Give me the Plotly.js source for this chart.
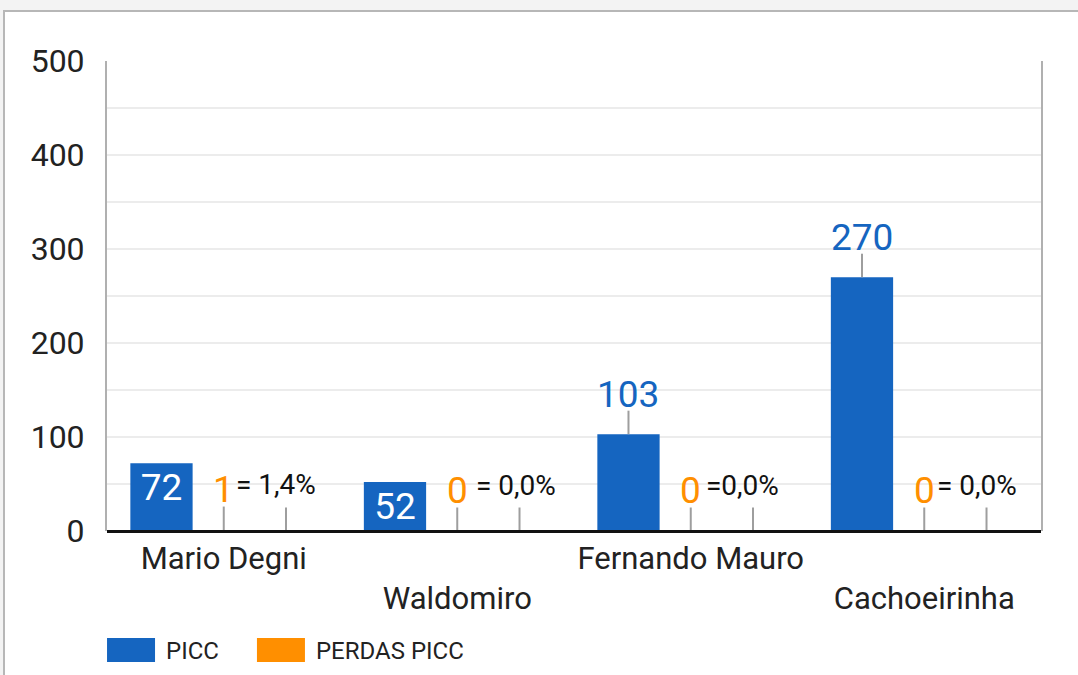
<!DOCTYPE html>
<html>
<head>
<meta charset="utf-8">
<script src="https://cdn.plot.ly/plotly-3.0.1.min.js"></script>
<style>
  html, body { margin: 0; padding: 0; background: #f3f3f3; width: 1078px; height: 675px; overflow: hidden; }
  #card { position: absolute; left: 3px; top: 10px; width: 1073px; height: 663px;
          border-left: 2px solid #b7b7b7; border-top: 2px solid #b7b7b7; background: #ffffff; }
  #chart { width: 1073px; height: 663px; }
  g.legendpoints path { d: path("M35,12H-13V-12H35Z"); }
</style>
</head>
<body>
<div id="card"><div id="chart"></div></div>
<script>
// ---- data ----
const categories = ['Mario Degni', 'Waldomiro', 'Fernando Mauro', 'Cachoeirinha'];
const piccValues = [72, 52, 103, 270];
const perdasValues = [1, 0, 0, 0];
const perdasPct = [1.4, 0, 0, 0];
const pctLabels = ['= 1,4%', '= 0,0%', '=0,0%', '= 0,0%'];
const seriesNames = ['PICC', 'PERDAS PICC'];
const yTicks = [0, 100, 200, 300, 400, 500];

// ---- style ----
const BLUE = '#1565C0', ORANGE = '#FF8F00', LEADER = '#9e9e9e';
const FONT = 'Roboto, "Open Sans", sans-serif';
const W = 1073, H = 663;
const M = { l: 102, r: 37, t: 49, b: 144, autoexpand: false };
const BARGAP = 0.2;
const leader = 25;                       // leader-line length (axis units)
const bluePlacement = ['inside', 'inside', 'outside', 'outside'];
const pctNudge = [-10, -4, -11, -10];    // px, horizontal label nudge
const LEGEND_SYMBOL = 'M35,12H-13V-12H35Z';

const plotW = W - M.l - M.r;
const barW = plotW / categories.length * (1 - BARGAP) / 3;

const trPicc = {
  type: 'bar', name: seriesNames[0], x: categories, y: piccValues,
  marker: { color: BLUE },
  text: piccValues.map(String),
  textposition: bluePlacement.map(p => p === 'inside' ? 'inside' : 'none'),
  insidetextanchor: 'end', constraintext: 'none', textangle: 0,
  insidetextfont: { family: FONT, size: 37, color: '#ffffff' },
  error_y: { type: 'data', symmetric: false,
             array: bluePlacement.map(p => p === 'outside' ? leader : 0),
             arrayminus: piccValues.map(() => 0),
             width: 0, thickness: 2, color: LEADER },
  hoverinfo: 'skip'
};
const trPerdas = {
  type: 'bar', name: seriesNames[1], x: categories, y: perdasValues,
  marker: { color: ORANGE },
  error_y: { type: 'data', symmetric: false,
             array: perdasValues.map(() => leader), arrayminus: perdasValues.map(() => 0),
             width: 0, thickness: 2, color: LEADER },
  hoverinfo: 'skip'
};
const trPct = {
  type: 'bar', name: '%', x: categories, y: perdasPct.map(v => v / 100),
  marker: { color: 'rgba(0,0,0,0)' }, showlegend: false,
  error_y: { type: 'data', symmetric: false,
             array: perdasPct.map(() => leader), arrayminus: perdasPct.map(() => 0),
             width: 0, thickness: 2, color: LEADER },
  hoverinfo: 'skip'
};

const annotations = [];
categories.forEach((c, i) => {
  if (bluePlacement[i] === 'outside') {
    annotations.push({ x: c, y: piccValues[i] + leader, xref: 'x', yref: 'y',
      text: String(piccValues[i]), showarrow: false, xshift: -barW, yshift: -6, borderpad: 0,
      xanchor: 'center', yanchor: 'bottom', font: { family: FONT, size: 37, color: BLUE } });
  }
  annotations.push({ x: c, y: perdasValues[i] + leader, xref: 'x', yref: 'y',
    text: String(perdasValues[i]), showarrow: false, xshift: 0, yshift: -5, borderpad: 0,
    xanchor: 'center', yanchor: 'bottom', font: { family: FONT, size: 37, color: ORANGE } });
  annotations.push({ x: c, y: perdasPct[i] / 100 + leader, xref: 'x', yref: 'y',
    text: pctLabels[i], showarrow: false, xshift: barW + pctNudge[i], yshift: 5, borderpad: 0,
    xanchor: 'center', yanchor: 'bottom', font: { family: FONT, size: 28, color: '#111111' } });
});

const layout = {
  width: W, height: H, margin: M,
  paper_bgcolor: '#ffffff', plot_bgcolor: '#ffffff',
  font: { family: FONT, color: '#222222' },
  barmode: 'group', bargap: BARGAP, bargroupgap: 0,
  hovermode: false,
  showlegend: true,
  legend: { orientation: 'h', x: -0.0353, xanchor: 'left', y: -0.206, yanchor: 'top',
            font: { family: FONT, size: 24, color: '#222222' }, itemwidth: 82,
            traceorder: 'normal' },
  xaxis: {
    type: 'category', tickvals: categories,
    ticktext: categories.map((c, i) => i % 2 ? '<br>' + c : c),
    showline: false,
    ticks: '', showgrid: false, automargin: false, fixedrange: true,
    tickfont: { family: FONT, size: 31, color: '#222222' }, ticklabelstandoff: 6
  },
  yaxis: {
    range: [0, 500], tickvals: yTicks, ticktext: yTicks.map(String),
    showline: true, linecolor: '#b0b0b0', linewidth: 2, mirror: true,
    ticks: '', automargin: false, fixedrange: true,
    zeroline: true, zerolinecolor: '#111111', zerolinewidth: 3, zerolinelayer: 'above traces',
    showgrid: true, gridcolor: '#ececec', gridwidth: 2,
    minor: { dtick: 50, showgrid: true, gridcolor: '#ececec', gridwidth: 2 },
    tickfont: { family: FONT, size: 32, color: '#222222' }, ticklabelstandoff: 14
  },
  annotations: annotations
};

Plotly.newPlot('chart', [trPicc, trPerdas, trPct], layout, { displayModeBar: false, staticPlot: true })
  .then(gd => {
    gd.querySelectorAll('g.legendpoints path').forEach(p => p.setAttribute('d', LEGEND_SYMBOL));
  });
</script>
</body>
</html>
